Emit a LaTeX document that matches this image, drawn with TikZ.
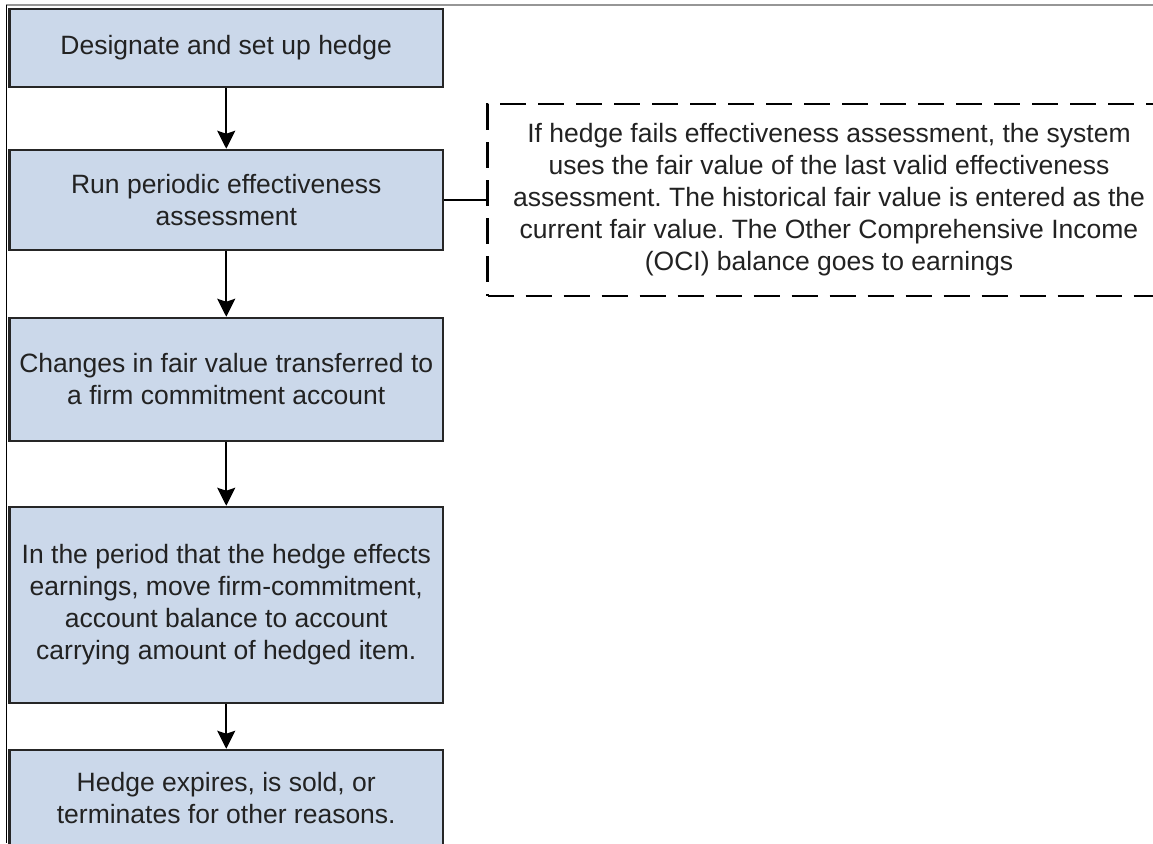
\documentclass[tikz,border=0pt]{standalone}
\usepackage{fontspec}
\setmainfont{Liberation Sans}
\usetikzlibrary{arrows.meta}
\definecolor{boxfill}{RGB}{203,216,234}
\definecolor{boxline}{RGB}{38,38,38}
\definecolor{txt}{RGB}{34,34,34}
\definecolor{frameline}{RGB}{150,150,150}
\frenchspacing
\begin{document}
\begin{tikzpicture}[x=1pt,y=-1pt,
  stepbox/.style={draw=boxline, fill=boxfill, line width=2.5pt, minimum width=433.5pt,
    inner sep=0pt, align=center, font=\fontsize{26.5}{32}\selectfont, text=txt},
  flow/.style={line width=2pt, draw=black, -{Stealth[length=18pt,width=18pt,inset=3pt]}},
  link/.style={line width=2pt, draw=black},
  notebox/.style={draw=black, line width=2.5pt, dash pattern=on 26pt off 12pt,
    minimum width=683pt, minimum height=192pt, inner sep=0pt, align=center,
    font=\fontsize{26.5}{32}\selectfont, text=txt}]
\useasboundingbox (0,0) rectangle (1153,843);
\fill[white] (0,0) rectangle (1153,843);
\draw[frameline, line width=1.5pt] (6,5) -- (1153,5);
\draw[black, line width=1.5pt] (6.5,5) -- (6.5,843);

\node[stepbox, minimum height=78pt] (b1) at (226.25,48) {Designate and set up hedge};
\node[stepbox, minimum height=100pt] (b2) at (226.25,200) {Run periodic effectiveness\\assessment};
\node[stepbox, minimum height=123pt] (b3) at (226.25,379.5) {Changes in fair value transferred to\\a firm commitment account};
\node[stepbox, minimum height=196pt] (b4) at (226.25,605) {In the period that the hedge effects\\earnings, move firm-commitment,\\account balance to account\\carrying amount of hedged item.};
\node[stepbox, minimum height=96pt] (b5) at (226.25,798) {Hedge expires, is sold, or\\terminates for other reasons.};

\node[notebox] (note) at (829,200) {If hedge fails effectiveness assessment, the system\\uses the fair value of the last valid effectiveness\\assessment. The historical fair value is entered as the\\current fair value. The Other Comprehensive Income\\(OCI) balance goes to earnings};

\draw[flow] (b1) -- (b2);
\draw[flow] (b2) -- (b3);
\draw[flow] (b3) -- (b4);
\draw[flow] (b4) -- (b5);
\draw[link] (b2.east) -- (note.west);
\end{tikzpicture}
\end{document}
